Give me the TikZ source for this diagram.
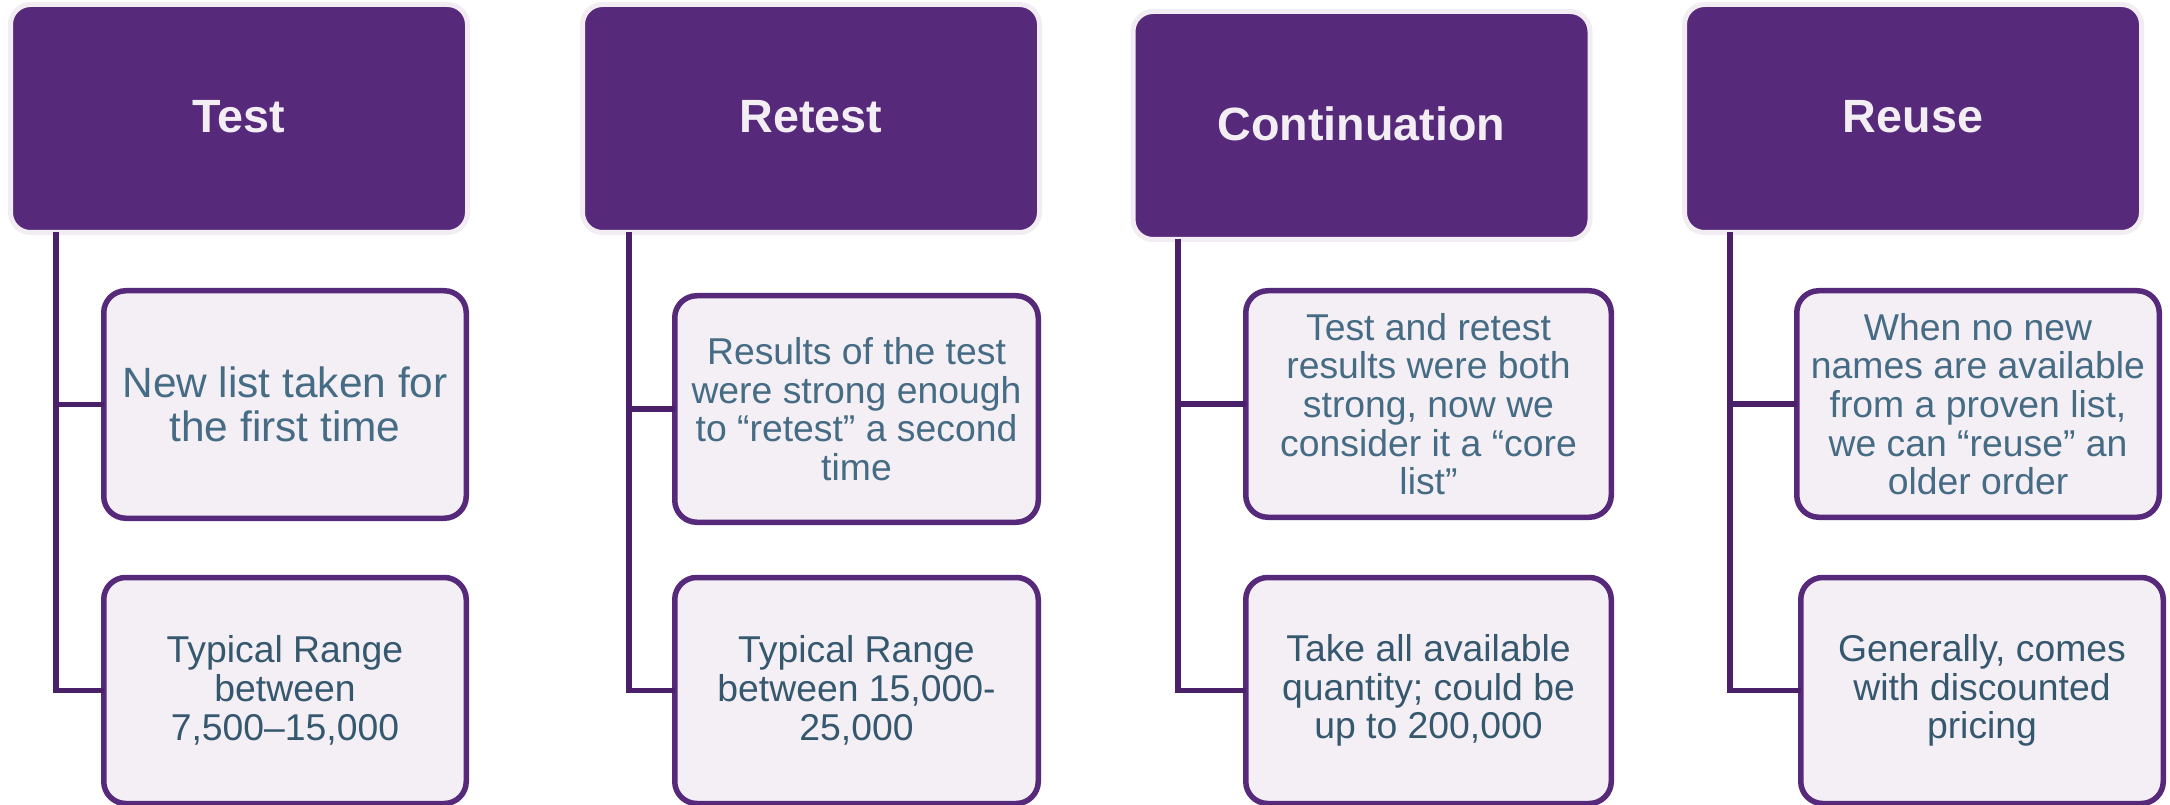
\documentclass[tikz,border=0pt]{standalone}
\usepackage{fontspec}
\setmainfont{Liberation Sans}
\definecolor{hdrfill}{HTML}{57297B}
\definecolor{hdredge}{HTML}{F2EDF2}
\definecolor{hdrtext}{HTML}{F3EEF4}
\definecolor{boxfill}{HTML}{F3EFF4}
\definecolor{boxedge}{HTML}{57297B}
\definecolor{connc}{HTML}{4A2068}
\definecolor{txtA}{HTML}{466B84}
\definecolor{txtB}{HTML}{36586F}
\def\pxu{0.75pt}
\newcommand\hup[1]{\raisebox{2.5pt}{#1}}
\tikzset{
  hdrbox/.style={draw=hdredge, fill=hdrfill, line width=5*\pxu, rounded corners=20*\pxu,
    outer sep=0pt, inner sep=0pt, anchor=north west, text=hdrtext,
    font=\fontsize{35}{40}\selectfont\bfseries,
    minimum width=457*\pxu, minimum height=228*\pxu},
  childbox/.style={draw=boxedge, fill=boxfill, line width=5.5*\pxu, rounded corners=22*\pxu,
    outer sep=0pt, inner sep=0pt, anchor=north west, align=center,
    font=\fontsize{28}{29}\selectfont},
  conn/.style={draw=connc, line width=5.5*\pxu, line join=miter}
}
\begin{document}
\begin{tikzpicture}[x=0.75pt,y=-0.75pt]
\useasboundingbox (0,0) rectangle (2170,805);
% headers
\node[hdrbox] (H1) at (10.5,4.5) {\hup{Test}};
\node[hdrbox] (H2) at (582.5,4.5) {\hup{Retest}};
\node[hdrbox] (H3) at (1133,11.5) {\hup{Continuation}};
\node[hdrbox] (H4) at (1684.5,4.5) {\hup{Reuse}};
% children column 1
\node[childbox, text=txtA, font=\fontsize{31.8}{33}\selectfont,
  minimum width=362.5*\pxu, minimum height=227.5*\pxu] (A1) at (103.75,290.75)
  {New list taken for\\the first time};
\node[childbox, text=txtB, minimum width=362.5*\pxu, minimum height=226*\pxu] (A2) at (103.75,577.5)
  {Typical Range\\between\\7,500–15,000};
% column 2
\node[childbox, text=txtA, minimum width=363.5*\pxu, minimum height=226.5*\pxu] (B1) at (674.75,295.75)
  {Results of the test\\were strong enough\\to “retest” a second\\time};
\node[childbox, text=txtB, minimum width=363.5*\pxu, minimum height=226*\pxu] (B2) at (674.75,577.5)
  {Typical Range\\between 15,000-\\25,000};
% column 3
\node[childbox, text=txtA, minimum width=365.5*\pxu, minimum height=226.5*\pxu] (C1) at (1245.75,290.75)
  {Test and retest\\results were both\\strong, now we\\consider it a “core\\list”};
\node[childbox, text=txtB, minimum width=365.5*\pxu, minimum height=226*\pxu] (C2) at (1245.75,577.5)
  {Take all available\\quantity; could be\\up to 200,000};
% column 4
\node[childbox, text=txtA, minimum width=362.5*\pxu, minimum height=226.5*\pxu] (D1) at (1796.75,290.75)
  {When no new\\names are available\\from a proven list,\\we can “reuse” an\\older order};
\node[childbox, text=txtB, minimum width=362.5*\pxu, minimum height=226*\pxu] (D2) at (1800.75,577.5)
  {Generally, comes\\with discounted\\pricing};
% connectors
\draw[conn] ([xshift=45.5*\pxu]H1.south west) |- (A2.west);
\draw[conn] ([xshift=45.5*\pxu]H1.south west) |- (A1.west);
\draw[conn] ([xshift=46.5*\pxu]H2.south west) |- (B2.west);
\draw[conn] ([xshift=46.5*\pxu]H2.south west) |- (B1.west);
\draw[conn] ([xshift=45*\pxu]H3.south west) |- (C2.west);
\draw[conn] ([xshift=45*\pxu]H3.south west) |- (C1.west);
\draw[conn] ([xshift=45.5*\pxu]H4.south west) |- (D2.west);
\draw[conn] ([xshift=45.5*\pxu]H4.south west) |- (D1.west);
\end{tikzpicture}
\end{document}
